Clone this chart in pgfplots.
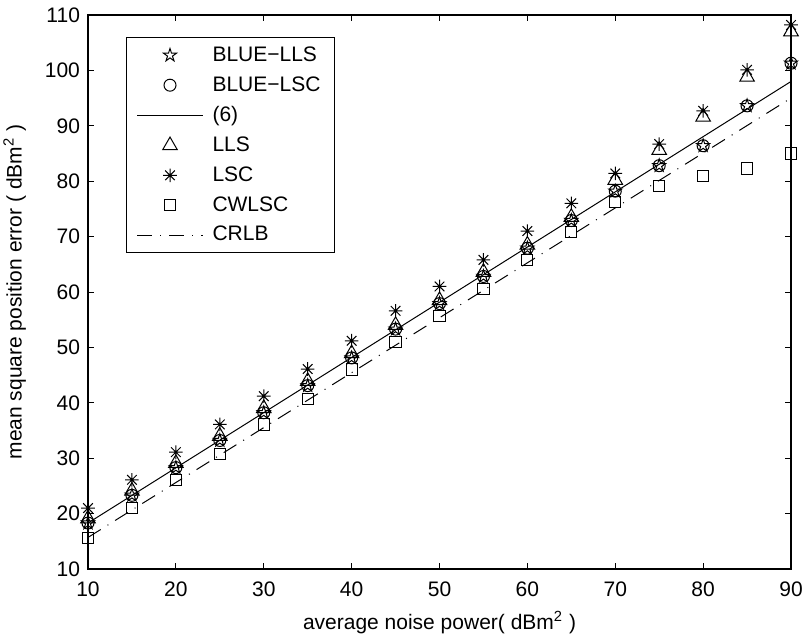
\documentclass[border=0pt]{standalone}
\usepackage{fontspec}
\setmainfont{Liberation Sans}
\usepackage{pgfplots}
\pgfplotsset{compat=1.18}

% outlined five-pointed star (MATLAB 'p')
\pgfdeclareplotmark{pentagram}{%
  \pgfpathmoveto{\pgfpointpolar{90}{\pgfplotmarksize}}%
  \pgfpathlineto{\pgfpointpolar{126}{0.382\pgfplotmarksize}}%
  \pgfpathlineto{\pgfpointpolar{162}{\pgfplotmarksize}}%
  \pgfpathlineto{\pgfpointpolar{198}{0.382\pgfplotmarksize}}%
  \pgfpathlineto{\pgfpointpolar{234}{\pgfplotmarksize}}%
  \pgfpathlineto{\pgfpointpolar{270}{0.382\pgfplotmarksize}}%
  \pgfpathlineto{\pgfpointpolar{306}{\pgfplotmarksize}}%
  \pgfpathlineto{\pgfpointpolar{342}{0.382\pgfplotmarksize}}%
  \pgfpathlineto{\pgfpointpolar{18}{\pgfplotmarksize}}%
  \pgfpathlineto{\pgfpointpolar{54}{0.382\pgfplotmarksize}}%
  \pgfpathclose\pgfusepathqstroke}
% eight-ray asterisk (MATLAB '*')
\pgfdeclareplotmark{ast8}{%
  \pgfpathmoveto{\pgfpointpolar{0}{\pgfplotmarksize}}\pgfpathlineto{\pgfpointpolar{180}{\pgfplotmarksize}}%
  \pgfpathmoveto{\pgfpointpolar{90}{\pgfplotmarksize}}\pgfpathlineto{\pgfpointpolar{270}{\pgfplotmarksize}}%
  \pgfpathmoveto{\pgfpointpolar{45}{\pgfplotmarksize}}\pgfpathlineto{\pgfpointpolar{225}{\pgfplotmarksize}}%
  \pgfpathmoveto{\pgfpointpolar{135}{\pgfplotmarksize}}\pgfpathlineto{\pgfpointpolar{315}{\pgfplotmarksize}}%
  \pgfusepathqstroke}

\pgfplotstableread{
x   blue   lsc    lls    cwl
10  18.3   21.0   19.1   15.6
15  23.3   26.1   24.1   21.0
20  28.3   31.1   29.1   26.0
25  33.2   36.1   34.0   30.8
30  38.2   41.2   39.0   36.1
35  43.1   46.1   43.9   40.7
40  48.1   51.2   48.9   46.0
45  53.3   56.6   54.0   51.0
50  57.9   61.0   58.5   55.7
55  62.8   65.8   63.6   60.5
60  67.9   71.0   68.5   65.8
65  72.9   76.0   73.5   70.9
70  78.2   81.4   80.2   76.2
75  82.8   86.7   85.6   79.1
80  86.4   92.7   91.6   80.9
85  93.6  100.1   98.8   82.3
90 101.3  108.2  107.0   85.0
}\datatab

\begin{document}
\begin{tikzpicture}[font=\fontsize{10.5}{12.6}\selectfont]
\begin{axis}[
  name=ax,
  scale only axis,
  width=351.5pt, height=277pt,
  xmin=10, xmax=90, ymin=10, ymax=110,
  xtick={10,20,...,90},
  ytick={10,20,...,110},
  tick align=inside, tick pos=both,
  major tick length=3pt,
  tick style={black, line width=0.5pt},
  axis line style={line width=0.6pt},
  /pgf/number format/assume math mode=true,
  xticklabel style={yshift=-3pt},
  yticklabel style={xshift=-0.5pt},
  xlabel={average noise power( dBm\textsuperscript{2} )},
  ylabel={mean square position error ( dBm\textsuperscript{2} )},
  xlabel style={at={(axis description cs:0.5,-0.1083)}, anchor=base},
  ylabel style={at={(axis description cs:-0.0945,0.5)}, anchor=base},
  legend image code/.code={%
    \draw[mark repeat=2,mark phase=2,#1] plot coordinates {(0pt,0pt) (16.5pt,0pt) (33pt,0pt)};},
  legend style={at={(axis description cs:0,1)}, anchor=north west,
    xshift=19pt, yshift=-11pt, draw=black, line width=0.5pt, fill=white,
    inner xsep=5pt, inner ysep=2.5pt, row sep=2.1pt, column sep=2.5pt,
    font=\fontsize{10.5}{12.6}\selectfont},
  legend cell align=left,
]
\addplot[only marks, mark=pentagram, mark size=3.4pt, black, line width=0.5pt]
  table[x=x, y=blue] {\datatab};
\addlegendentry{BLUE\textminus LLS}
\addplot[only marks, mark=o, mark size=3pt, black, line width=0.5pt]
  table[x=x, y=blue] {\datatab};
\addlegendentry{BLUE\textminus LSC}
\addplot[black, line width=0.5pt, no marks] coordinates {(10,18.3) (90,98.0)};
\addlegendentry{(6)}
\addplot[only marks, mark=triangle, mark size=4.2pt, black, line width=0.5pt]
  table[x=x, y=lls] {\datatab};
\addlegendentry{LLS}
\addplot[only marks, mark=ast8, mark size=3.4pt, black, line width=0.5pt]
  table[x=x, y=lsc] {\datatab};
\addlegendentry{LSC}
\addplot[only marks, mark=square, mark size=2.8pt, black, line width=0.5pt]
  table[x=x, y=cwl] {\datatab};
\addlegendentry{CWLSC}
\addplot[black, line width=0.5pt, no marks,
  dash pattern=on 7.5pt off 4pt on 0.5pt off 4pt] coordinates {(10,15.7) (90,95.0)};
\addlegendentry{CRLB}
\end{axis}
\pgfresetboundingbox
\path[use as bounding box] ([xshift=-44pt,yshift=-36pt]ax.south west)
  rectangle ([xshift=7.5pt,yshift=7.5pt]ax.north east);
\end{tikzpicture}
\end{document}
